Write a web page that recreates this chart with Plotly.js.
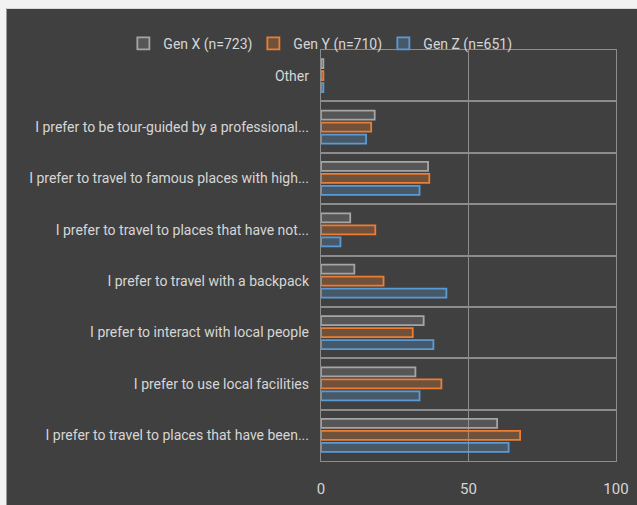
<!DOCTYPE html>
<html>
<head>
<meta charset="utf-8">
<script src="https://cdn.plot.ly/plotly-3.0.1.min.js"></script>
<style>
html,body{margin:0;padding:0;background:#f2f2f2;}
#chart{position:absolute;left:6px;top:8px;width:631px;height:497px;border-left:1px solid #9a9a9a;border-top:1px solid #d8d8d8;box-sizing:border-box;}
</style>
</head>
<body>
<div id="chart"></div>
<script>
const categories = [
  "Other",
  "I prefer to be tour-guided by a professional...",
  "I prefer to travel to famous places with high...",
  "I prefer to travel to places that have not...",
  "I prefer to travel with a backpack",
  "I prefer to interact with local people",
  "I prefer to use local facilities",
  "I prefer to travel to places that have been..."
];
const seriesNames = ["Gen X (n=723)", "Gen Y (n=710)", "Gen Z (n=651)"];
const genX = [0.8, 18.2, 36.3, 9.9, 11.3, 34.8, 32.0, 59.7];
const genY = [0.8, 17.0, 36.7, 18.4, 21.2, 31.1, 40.8, 67.5];
const genZ = [0.8, 15.3, 33.4, 6.6, 42.5, 38.1, 33.4, 63.6];
const xTicks = [0, 50, 100];

const lineColors = ["#a5a5a5", "#ed7d31", "#5b9bd5"];
const fillColors = ["rgba(165,165,165,0.22)", "rgba(237,125,49,0.28)", "rgba(91,155,213,0.28)"];
const values = [genX, genY, genZ];

const FONT = "Roboto, 'Open Sans', sans-serif";
const TXT = "#d6d6d6";

const traces = values.map((v, i) => ({
  type: "bar",
  orientation: "h",
  name: seriesNames[i],
  x: v,
  y: categories,
  marker: {color: fillColors[i], line: {color: lineColors[i], width: 1.8}},
  hoverinfo: "x+name"
}));

const layout = {
  width: 631, height: 497,
  paper_bgcolor: "#404040",
  plot_bgcolor: "#404040",
  font: {family: FONT, color: TXT, size: 14},
  margin: {l: 314, r: 22, t: 41, b: 45},
  barmode: "group",
  bargap: 0.3,
  bargroupgap: 0.25,
  showlegend: true,
  legend: {
    orientation: "h",
    xref: "paper", yref: "paper",
    x: -0.67, y: 1.015, xanchor: "left", yanchor: "middle",
    font: {family: FONT, size: 14, color: TXT},
    bgcolor: "rgba(0,0,0,0)",
    traceorder: "normal",
    itemwidth: 30,
    entrywidth: 85
  },
  xaxis: {
    range: [0, 100],
    tickvals: xTicks,
    ticktext: xTicks.map(String),
    showgrid: true, gridcolor: "#8c8c8c", gridwidth: 1.2,
    zeroline: false,
    showline: true, linecolor: "#8c8c8c", linewidth: 1.2, mirror: true,
    ticks: "", ticklabelstandoff: 14,
    tickfont: {family: FONT, size: 15, color: TXT},
    fixedrange: true
  },
  yaxis: {
    type: "category",
    categoryorder: "array",
    categoryarray: categories,
    autorange: "reversed",
    tickson: "boundaries",
    showgrid: true, gridcolor: "#8c8c8c", gridwidth: 2,
    showline: true, linecolor: "#8c8c8c", linewidth: 1.2, mirror: true,
    ticks: "", ticklabelstandoff: 8,
    tickfont: {family: FONT, size: 14, color: TXT},
    fixedrange: true
  }
};

Plotly.newPlot("chart", traces, layout, {displayModeBar: false, staticPlot: true});
</script>
</body>
</html>
